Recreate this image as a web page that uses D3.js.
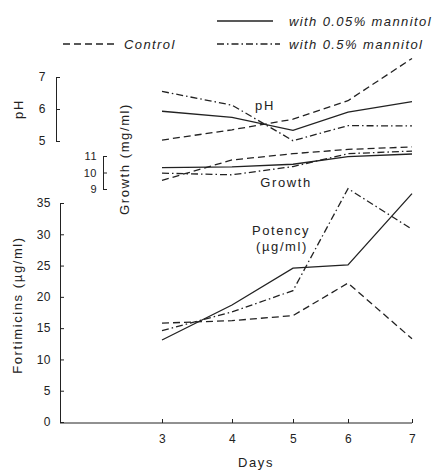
<!DOCTYPE html>
<html>
<head>
<meta charset="utf-8">
<script src="https://cdnjs.cloudflare.com/ajax/libs/d3/7.8.5/d3.min.js"></script>
<style>
  body { margin: 0; background: #fff; }
  svg { display: block; }
  text { font-family: "Liberation Sans", Arial, sans-serif; fill: #222; }
  .tick text { font-size: 12px; letter-spacing: 0.5px; }
  .label { font-size: 13px; letter-spacing: 1.6px; }
  .legend text { font-size: 13px; font-style: italic; letter-spacing: 1.4px; }
</style>
</head>
<body>
<svg></svg>
<script>
// data
let days = [3, 4, 5, 6, 7]

let seriesNames = ['Control', 'with 0.05% mannitol', 'with 0.5% mannitol']

// pH
let phControl = [5.03, 5.35, 5.68, 6.26, 7.58]
let phLow     = [5.93, 5.74, 5.33, 5.90, 6.23]
let phHigh    = [6.55, 6.12, 5.01, 5.48, 5.47]

// growth (mg/ml)
let growthControl = [9.52, 10.76, 11.14, 11.40, 11.55]
let growthLow     = [10.30, 10.34, 10.50, 10.96, 11.12]
let growthHigh    = [9.96, 9.86, 10.36, 11.14, 11.30]

// potency, fortimicins (ug/ml)
let potControl = [15.8, 16.2, 17.0, 22.2, 13.3]
let potLow     = [13.1, 18.7, 24.6, 25.1, 36.5]
let potHigh    = [14.6, 17.6, 21.0, 37.3, 30.8]

let phTicks = [5, 6, 7]
let growthTicks = [9, 10, 11]
let potTicks = [0, 5, 10, 15, 20, 25, 30, 35]

// canvas
let width = 440
let height = 473
let svg = d3.select('svg').attr('width', width).attr('height', height)

let dashes = ['7,4', null, '7,3,1.5,3']   // control, 0.05%, 0.5%
let intFormat = d3.format('d')

// scales (the day ticks are drawn unevenly on the original)
let xScale = d3.scaleLinear().domain(days).range([162, 232, 293, 348, 412])
let phScale = d3.scaleLinear().domain([5, 7]).range([141, 77])
let growthScale = d3.scaleLinear().domain([9, 11]).range([189, 156])
let potScale = d3.scaleLinear().domain([0, 35]).range([422, 203])

let axisLeftX = 60

let drawAxes = () => {
  // fortimicins axis
  let potAxis = d3.axisLeft(potScale)
                  .tickValues(potTicks)
                  .tickFormat(intFormat)
                  .tickSizeInner(-4)
                  .tickSizeOuter(0)
                  .tickPadding(9)
  svg.append('g')
     .attr('transform', `translate(${axisLeftX},0)`)
     .call(potAxis)

  // pH bracket axis
  let phAxis = d3.axisLeft(phScale)
                 .tickValues(phTicks)
                 .tickFormat(intFormat)
                 .tickSizeInner(-4)
                 .tickSizeOuter(0)
                 .tickPadding(10)
  svg.append('g')
     .attr('transform', 'translate(56,0)')
     .call(phAxis)

  // growth bracket axis
  let growthAxis = d3.axisLeft(growthScale)
                     .tickValues(growthTicks)
                     .tickFormat(intFormat)
                     .tickSizeInner(-4)
                     .tickSizeOuter(0)
                     .tickPadding(6)
  svg.append('g')
     .attr('transform', 'translate(103,0)')
     .call(growthAxis)
     .selectAll('.tick text').style('font-size', '11px')

  // days axis
  let xAxis = d3.axisBottom(xScale)
                .tickValues(days)
                .tickFormat(intFormat)
                .tickSizeInner(-4)
                .tickSizeOuter(0)
                .tickPadding(11)
  let gx = svg.append('g')
              .attr('transform', `translate(0,${potScale(0) + 1})`)
              .call(xAxis)
  gx.select('.domain').remove()
  gx.append('line')
    .attr('x1', axisLeftX)
    .attr('x2', xScale(7))
    .attr('stroke', '#222')

  svg.selectAll('.domain, .tick line').attr('stroke', '#222').attr('stroke-width', 1)
  svg.selectAll('.tick text').style('fill', '#222')
}

let drawSeries = (groups, yScale) => {
  let line = d3.line()
               .x((d, i) => xScale(days[i]))
               .y((d) => yScale(d))
  svg.append('g')
     .selectAll('path')
     .data(groups)
     .enter()
     .append('path')
     .attr('d', (d) => line(d))
     .attr('fill', 'none')
     .attr('stroke', '#222')
     .attr('stroke-width', 1.3)
     .attr('stroke-dasharray', (d, i) => dashes[i])
}

let drawLabels = () => {
  // rotated axis titles
  let vertical = [
    { text: 'pH', x: 18, y: phScale(6) },
    { text: 'Growth (mg/ml)', x: 124, y: 159 },
    { text: 'Fortimicins (\u00b5g/ml)', x: 17, y: 305 }
  ]
  svg.selectAll('.vlabel')
     .data(vertical)
     .enter()
     .append('text')
     .attr('class', 'label vlabel')
     .attr('text-anchor', 'middle')
     .attr('dominant-baseline', 'central')
     .attr('transform', (d) => `translate(${d.x},${d.y}) rotate(-90)`)
     .text((d) => d.text)

  // in-plot notes
  let notes = [
    { text: 'pH', x: 265, y: 110 },
    { text: 'Growth', x: 286, y: 187 },
    { text: 'Potency', x: 281, y: 235 },
    { text: '(\u00b5g/ml)', x: 282, y: 251 },
    { text: 'Days', x: 256, y: 467 }
  ]
  svg.selectAll('.note')
     .data(notes)
     .enter()
     .append('text')
     .attr('class', 'label note')
     .attr('text-anchor', 'middle')
     .attr('x', (d) => d.x)
     .attr('y', (d) => d.y)
     .text((d) => d.text)
}

let makeLegend = () => {
  let items = [
    { name: seriesNames[1], dash: dashes[1], x1: 217, x2: 273, tx: 289, y: 21 },
    { name: seriesNames[0], dash: dashes[0], x1: 63, x2: 117, tx: 124, y: 44 },
    { name: seriesNames[2], dash: dashes[2], x1: 217, x2: 280, tx: 289, y: 44 }
  ]
  let legend = svg.append('g').attr('class', 'legend')
                  .selectAll('g')
                  .data(items)
                  .enter()
                  .append('g')
  legend.append('line')
        .attr('x1', (d) => d.x1)
        .attr('x2', (d) => d.x2)
        .attr('y1', (d) => d.y)
        .attr('y2', (d) => d.y)
        .attr('stroke', '#222')
        .attr('stroke-width', 1.3)
        .attr('stroke-dasharray', (d) => d.dash)
  legend.append('text')
        .attr('x', (d) => d.tx)
        .attr('y', (d) => d.y + 5)
        .text((d) => d.name)
}

drawAxes()
drawSeries([phControl, phLow, phHigh], phScale)
drawSeries([growthControl, growthLow, growthHigh], growthScale)
drawSeries([potControl, potLow, potHigh], potScale)
drawLabels()
makeLegend()
</script>
</body>
</html>
